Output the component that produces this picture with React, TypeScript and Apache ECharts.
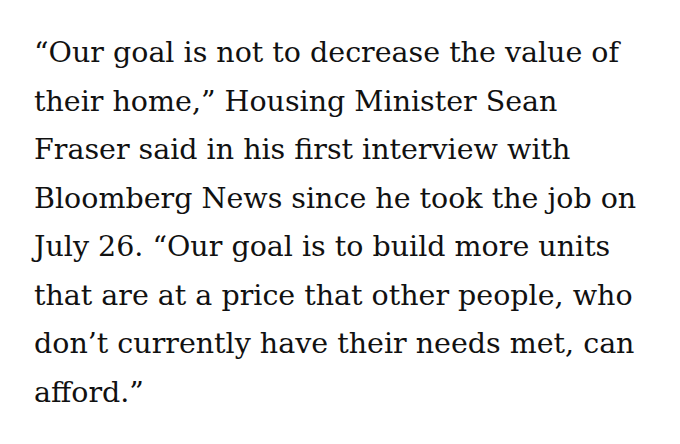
import React, { useEffect, useRef } from "react";
import * as echarts from "echarts";

const lines: string[] = [
  "\u201COur goal is not to decrease the value of",
  "their home,\u201D Housing Minister Sean",
  "Fraser said in his first interview with",
  "Bloomberg News since he took the job on",
  "July 26. \u201COur goal is to build more units",
  "that are at a price that other people, who",
  "don\u2019t currently have their needs met, can",
  "afford.\u201D",
];

const FONT_SIZE = 28.5;
const LINE_HEIGHT = 48.5;
const FIRST_BASELINE = 61;
const LEFT = 34;

export default function App() {
  const ref = useRef<HTMLDivElement>(null);
  useEffect(() => {
    document.body.style.margin = "0";
    const chart = echarts.init(ref.current!, undefined, { renderer: "svg" });
    chart.setOption({
      animation: false,
      backgroundColor: "#ffffff",
      graphic: lines.map((t, i) => ({
        type: "text",
        left: LEFT,
        top: FIRST_BASELINE + i * LINE_HEIGHT - FONT_SIZE * 0.8,
        style: {
          text: t,
          fill: "#111111",
          font: `${FONT_SIZE}px "DejaVu Serif", serif`,
        },
      })),
    });
    return () => chart.dispose();
  }, []);
  return <div ref={ref} style={{ width: 680, height: 444 }} />;
}
